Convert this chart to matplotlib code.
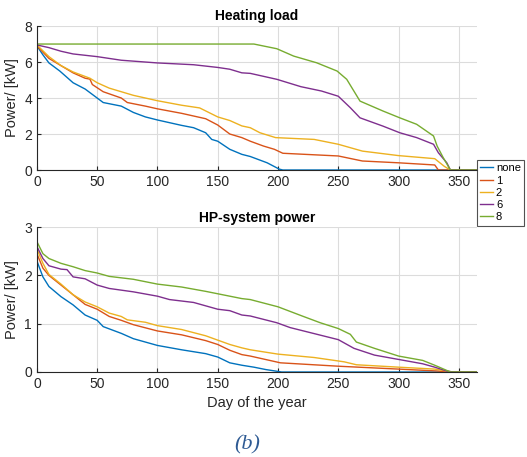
import numpy as np
import matplotlib
matplotlib.use('Agg')
import matplotlib.pyplot as plt

# Datos (dia del anio, potencia en kW)
labels = ['none', '1', '2', '6', '8']
colors = ['#0072BD', '#D95319', '#EDB120', '#7E2F8E', '#77AC30']

# Heating load
hl_none_d = [0, 5, 10, 19, 30, 40, 50, 55, 70, 80, 90, 100, 120, 130, 140, 145, 150, 160, 170, 177, 191, 201, 204, 365]
hl_none_v = [6.9, 6.4, 5.95, 5.5, 4.85, 4.5, 4.0, 3.75, 3.55, 3.2, 2.95, 2.78, 2.48, 2.35, 2.07, 1.7, 1.6, 1.15, 0.87, 0.75, 0.4, 0.05, 0, 0]
hl_1_d = [0, 10, 20, 30, 40, 44, 46, 55, 70, 75, 90, 100, 120, 140, 150, 160, 170, 177, 188, 197, 204, 250, 270, 300, 330, 333, 365]
hl_1_v = [6.9, 6.2, 5.8, 5.4, 5.1, 5.05, 4.75, 4.35, 4.0, 3.75, 3.55, 3.4, 3.15, 2.85, 2.5, 2.0, 1.8, 1.6, 1.33, 1.15, 0.93, 0.78, 0.5, 0.4, 0.28, 0, 0]
hl_2_d = [0, 10, 20, 30, 44, 50, 60, 70, 80, 100, 120, 135, 150, 160, 170, 177, 185, 198, 230, 250, 270, 300, 330, 338, 343, 365]
hl_2_v = [6.95, 6.3, 5.8, 5.45, 5.1, 4.85, 4.55, 4.35, 4.15, 3.85, 3.6, 3.45, 2.95, 2.75, 2.45, 2.35, 2.07, 1.8, 1.7, 1.43, 1.05, 0.8, 0.63, 0.2, 0, 0]
hl_6_d = [0, 10, 20, 30, 50, 70, 100, 130, 150, 160, 170, 177, 199, 219, 236, 250, 260, 268, 287, 301, 315, 329, 333, 340, 343, 365]
hl_6_v = [6.95, 6.8, 6.6, 6.45, 6.3, 6.1, 5.95, 5.85, 5.7, 5.6, 5.4, 5.37, 5.04, 4.63, 4.39, 4.1, 3.46, 2.9, 2.44, 2.07, 1.8, 1.43, 0.96, 0.4, 0, 0]
hl_8_d = [0, 180, 199, 213, 232, 249, 257, 268, 287, 301, 315, 329, 332, 337, 343, 365]
hl_8_v = [7.0, 7.0, 6.74, 6.33, 5.96, 5.5, 5.04, 3.83, 3.28, 2.9, 2.54, 1.89, 1.33, 0.69, 0, 0]

# HP-system power
hp_none_d = [0, 5, 10, 20, 30, 40, 50, 55, 70, 80, 90, 100, 120, 140, 150, 160, 170, 180, 190, 203, 365]
hp_none_v = [2.3, 1.97, 1.77, 1.56, 1.39, 1.18, 1.07, 0.94, 0.8, 0.69, 0.62, 0.55, 0.46, 0.38, 0.31, 0.19, 0.14, 0.1, 0.05, 0, 0]
hp_1_d = [0, 5, 10, 20, 30, 40, 50, 60, 70, 80, 100, 120, 140, 150, 160, 170, 177, 202, 250, 300, 333, 340, 365]
hp_1_v = [2.45, 2.15, 2.0, 1.8, 1.6, 1.4, 1.3, 1.15, 1.07, 0.98, 0.85, 0.77, 0.65, 0.57, 0.45, 0.36, 0.33, 0.19, 0.12, 0.06, 0.02, 0, 0]
hp_2_d = [0, 5, 10, 20, 30, 40, 50, 60, 70, 75, 90, 100, 120, 140, 150, 160, 170, 177, 200, 230, 255, 265, 300, 330, 345, 365]
hp_2_v = [2.55, 2.25, 2.02, 1.82, 1.6, 1.45, 1.35, 1.22, 1.15, 1.08, 1.03, 0.96, 0.88, 0.75, 0.66, 0.57, 0.5, 0.46, 0.37, 0.3, 0.21, 0.15, 0.1, 0.06, 0, 0]
hp_6_d = [0, 5, 10, 20, 25, 30, 40, 50, 60, 80, 100, 110, 130, 150, 160, 170, 177, 199, 210, 250, 263, 280, 300, 320, 330, 340, 345, 365]
hp_6_v = [2.6, 2.35, 2.2, 2.13, 2.12, 1.97, 1.93, 1.8, 1.73, 1.66, 1.57, 1.5, 1.44, 1.3, 1.27, 1.18, 1.16, 1.02, 0.92, 0.67, 0.49, 0.35, 0.26, 0.17, 0.1, 0.02, 0, 0]
hp_8_d = [0, 5, 10, 20, 30, 40, 50, 60, 80, 100, 120, 140, 150, 160, 170, 177, 200, 220, 235, 250, 260, 265, 280, 300, 320, 330, 343, 365]
hp_8_v = [2.7, 2.45, 2.35, 2.25, 2.18, 2.1, 2.05, 1.98, 1.92, 1.82, 1.76, 1.67, 1.62, 1.57, 1.52, 1.5, 1.35, 1.16, 1.02, 0.9, 0.78, 0.62, 0.49, 0.33, 0.24, 0.14, 0, 0]

hl_days = [hl_none_d, hl_1_d, hl_2_d, hl_6_d, hl_8_d]
hl_vals = [hl_none_v, hl_1_v, hl_2_v, hl_6_v, hl_8_v]
hp_days = [hp_none_d, hp_1_d, hp_2_d, hp_6_d, hp_8_d]
hp_vals = [hp_none_v, hp_1_v, hp_2_v, hp_6_v, hp_8_v]

plt.rcParams['font.family'] = ['Liberation Sans', 'DejaVu Sans']

fig = plt.figure(figsize=(5.27, 4.57), dpi=100)
ax1 = fig.add_axes([0.070, 0.628, 0.835, 0.315])
ax2 = fig.add_axes([0.070, 0.186, 0.835, 0.317])


def estilo(ax, yticks, titulo):
    ax.set_xlim(0, 365)
    ax.set_ylim(0, yticks[-1])
    ax.set_xticks([0, 50, 100, 150, 200, 250, 300, 350])
    ax.set_yticks(yticks)
    ax.grid(True, color='#dcdcdc', linewidth=0.8)
    ax.set_axisbelow(True)
    for s in ['top', 'right']:
        ax.spines[s].set_visible(False)
    for s in ['left', 'bottom']:
        ax.spines[s].set_color('#262626')
        ax.spines[s].set_linewidth(0.8)
    ax.tick_params(direction='in', length=3, colors='#262626', labelsize=10)
    ax.set_ylabel('Power/ [kW]', fontsize=10.5, color='#262626', labelpad=4)
    ax.set_title(titulo, fontsize=10, fontweight='bold', pad=4)


lines = []
for d, v, c, l in zip(hl_days, hl_vals, colors, labels):
    ln, = ax1.plot(d, v, color=c, linewidth=1.0, label=l)
    lines.append(ln)
for d, v, c in zip(hp_days, hp_vals, colors):
    ax2.plot(d, v, color=c, linewidth=1.0)

estilo(ax1, [0, 2, 4, 6, 8], 'Heating load')
estilo(ax2, [0, 1, 2, 3], 'HP-system power')
ax2.set_xlabel('Day of the year', fontsize=10.5, color='#262626', labelpad=4)

leg = fig.legend(handles=lines, loc='upper left', bbox_to_anchor=(477 / 527, 1 - 160 / 457),
                 fontsize=8, frameon=True, fancybox=False, handlelength=1.1,
                 handletextpad=0.3, borderpad=0.3, labelspacing=0.2, borderaxespad=0)
leg.get_frame().set_edgecolor('#262626')
leg.get_frame().set_linewidth(0.8)

fig.text(247 / 527, 1 - 445 / 457, '(b)', fontsize=16, style='italic',
         family='Liberation Serif', color='#2E5A93', ha='center', va='center')

fig.savefig('out.png', dpi=100)
